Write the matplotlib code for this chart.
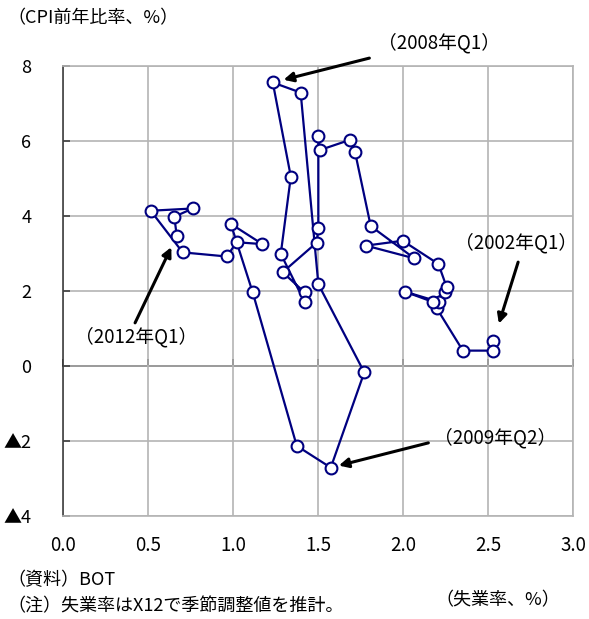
import matplotlib
matplotlib.use("Agg")
import matplotlib.pyplot as plt
from matplotlib.ticker import FuncFormatter

plt.rcParams["font.family"] = ["Noto Sans CJK JP", "DejaVu Sans"]

# unemployment rate (x) and CPI yoy (y), 2002Q1 .. 2012Q1
unemp = [2.53, 2.53, 2.35, 2.196, 2.21, 2.01, 2.173, 2.245, 2.255, 2.206,
         1.996, 1.78, 2.065, 1.808, 1.716, 1.686, 1.51, 1.50, 1.50, 1.49,
         1.29, 1.42, 1.42, 1.279, 1.338, 1.232, 1.396, 1.50, 1.77, 1.573,
         1.373, 1.114, 0.985, 1.171, 1.02, 0.961, 0.702, 0.514, 0.761, 0.653,
         0.667]
cpi = [0.67, 0.41, 0.41, 1.54, 1.71, 1.98, 1.71, 1.98, 2.10, 2.72,
       3.34, 3.21, 2.87, 3.73, 5.70, 6.03, 5.76, 6.12, 3.67, 3.29,
       2.50, 1.96, 1.70, 2.99, 5.05, 7.56, 7.29, 2.18, -0.17, -2.71,
       -2.13, 1.96, 3.79, 3.25, 3.30, 2.92, 3.03, 4.14, 4.20, 3.98,
       3.47]

x_ticks = [0.0, 0.5, 1.0, 1.5, 2.0, 2.5, 3.0]
y_ticks = [-4, -2, 0, 2, 4, 6, 8]

# label, point index, text pos, arrow tail, shrink at tip (pt)
notes = [
    ("（2008年Q1）", 25, (2.21, 8.61), (1.80, 8.21), 8),
    ("（2002年Q1）", 0, (2.66, 3.28), (2.675, 2.77), 13),
    ("（2012年Q1）", 40, (0.43, 0.77), (0.422, 1.15), 9),
    ("（2009年Q2）", 29, (2.54, -1.92), (2.147, -2.05), 6),
]

navy = "#000080"
grid_c = "#b4b4b4"
fs = 13.5

fig = plt.figure(figsize=(5.89, 6.19), dpi=100)
ax = fig.add_axes([0.1075, 0.1664, 0.866, 0.727])

ax.plot(unemp, cpi, color=navy, lw=1.6, marker="o", ms=8.5,
        mfc="white", mec=navy, mew=1.5, zorder=3)

ax.set_xlim(0, 3)
ax.set_ylim(-4, 8)
ax.set_xticks(x_ticks)
ax.set_yticks(y_ticks)
ax.xaxis.set_major_formatter(FuncFormatter(lambda v, p: f"{v:.1f}"))
ax.yaxis.set_major_formatter(
    FuncFormatter(lambda v, p: f"▲{abs(v):g}" if v < 0 else f"{v:g}"))
ax.grid(True, color=grid_c, lw=1.2)
ax.set_axisbelow(True)

for s in ["top", "right", "bottom"]:
    ax.spines[s].set_color(grid_c)
    ax.spines[s].set_linewidth(1.2)
ax.spines["left"].set_color("#404040")
ax.spines["left"].set_linewidth(1.2)

ax.tick_params(axis="x", length=0, pad=14, labelsize=fs)
ax.tick_params(axis="y", direction="in", length=5, width=1.2,
               color="#404040", pad=23, labelsize=13)

# zero line with inward ticks
sec = ax.secondary_xaxis(1 / 3)
sec.set_xticks(x_ticks)
sec.tick_params(direction="in", length=5, width=1.2, color="black",
                labelbottom=False)
sec.spines["bottom"].set_color("black")
sec.spines["bottom"].set_linewidth(1.2)

for label, i, txt, tail, shr in notes:
    ax.annotate("", xy=(unemp[i], cpi[i]), xytext=tail,
                arrowprops=dict(arrowstyle="-|>", color="black", lw=2.2,
                                mutation_scale=14, shrinkA=0, shrinkB=shr))
    ax.text(txt[0], txt[1], label, ha="center", va="center", fontsize=fs)

fig.text(0.012, 0.971, "（CPI前年比率、%）", fontsize=13, va="center", ha="left")
fig.text(0.012, 0.062, "（資料）BOT", fontsize=13, va="center", ha="left")
fig.text(0.012, 0.020, "（注）失業率はX12で季節調整値を推計。", fontsize=13,
         va="center", ha="left")
fig.text(0.74, 0.030, "（失業率、%）", fontsize=13, va="center", ha="left")

fig.savefig("out.png", dpi=100)
